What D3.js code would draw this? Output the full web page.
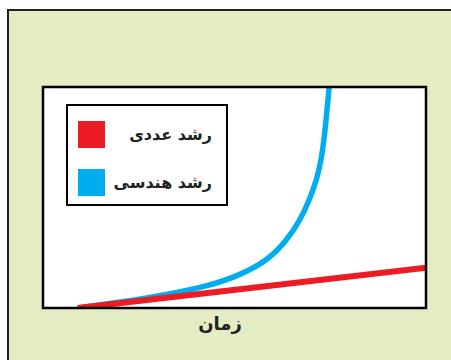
<!DOCTYPE html>
<html>
<head>
<meta charset="utf-8">
<script src="https://cdn.jsdelivr.net/npm/d3@7"></script>
<style>
  html, body { margin: 0; padding: 0; background: #fff; }
  svg { display: block; }
</style>
</head>
<body>
<div id="chart"></div>
<script>
// series (time vs growth, arbitrary units)
const arithmeticT = [0, 10];
const arithmeticV = [0, 1.82];

const geometricT = [0, 2.07, 3.8, 4.66, 5.47, 6.01, 6.39, 6.65, 6.86, 6.99, 7.07, 7.13, 7.22, 7.28];
const geometricV = [0, 0.45, 1.0, 1.49, 2.17, 3.08, 3.98, 4.89, 5.79, 6.7, 7.6, 8.51, 10, 11.2];

const legendLabels = ["رشد عددی", "رشد هندسی"];
const seriesColors = ["#ed1c24", "#00aeef"];
const xLabel = "زمان";

const width = 451;
const height = 360;
const plot = { left: 43, top: 87, right: 426, bottom: 308 };

const svg = d3.select("#chart")
  .append("svg")
  .attr("width", width)
  .attr("height", height);

// outer panel, runs off the right and bottom edges
svg.append("rect")
  .attr("x", 8)
  .attr("y", 10)
  .attr("width", 470)
  .attr("height", 380)
  .attr("fill", "#e4ecc3")
  .attr("stroke", "#222")
  .attr("stroke-width", 2);

svg.append("rect")
  .attr("x", plot.left)
  .attr("y", plot.top)
  .attr("width", plot.right - plot.left)
  .attr("height", plot.bottom - plot.top)
  .attr("fill", "#fff");

const x = d3.scaleLinear().domain([-1, 10]).range([plot.left, plot.right]);
const y = d3.scaleLinear().domain([0, 10]).range([plot.bottom, plot.top]);

svg.append("clipPath")
  .attr("id", "plot-clip")
  .append("rect")
  .attr("x", plot.left)
  .attr("y", plot.top)
  .attr("width", plot.right - plot.left)
  .attr("height", plot.bottom - plot.top);

const line = d3.line()
  .x(d => x(d[0]))
  .y(d => y(d[1]))
  .curve(d3.curveBasis);

const lines = svg.append("g").attr("clip-path", "url(#plot-clip)");

// blue goes under the red one
lines.append("path")
  .datum(d3.zip(geometricT, geometricV))
  .attr("d", line)
  .attr("fill", "none")
  .attr("stroke", seriesColors[1])
  .attr("stroke-width", 5.5);

lines.append("path")
  .datum(d3.zip(arithmeticT, arithmeticV))
  .attr("d", line)
  .attr("fill", "none")
  .attr("stroke", seriesColors[0])
  .attr("stroke-width", 6);

svg.append("rect")
  .attr("x", plot.left)
  .attr("y", plot.top)
  .attr("width", plot.right - plot.left)
  .attr("height", plot.bottom - plot.top)
  .attr("fill", "none")
  .attr("stroke", "#000")
  .attr("stroke-width", 2.5);

svg.append("text")
  .attr("x", 220)
  .attr("y", 330)
  .attr("text-anchor", "middle")
  .attr("font-family", "DejaVu Sans")
  .attr("font-weight", "bold")
  .attr("font-size", 18)
  .attr("fill", "#222")
  .text(xLabel);

// legend
const legend = svg.append("g").attr("transform", "translate(67,105)");

legend.append("rect")
  .attr("width", 160)
  .attr("height", 100)
  .attr("fill", "#fff")
  .attr("stroke", "#000")
  .attr("stroke-width", 2);

const items = legend.selectAll("g.item")
  .data(legendLabels)
  .join("g")
  .attr("class", "item")
  .attr("transform", (d, i) => `translate(0, ${16 + i * 48})`);

items.append("rect")
  .attr("x", 11)
  .attr("width", 27)
  .attr("height", 27)
  .attr("fill", (d, i) => seriesColors[i]);

items.append("text")
  .attr("x", 145)
  .attr("y", 19)
  .attr("text-anchor", "end")
  .attr("font-family", "DejaVu Sans")
  .attr("font-weight", "bold")
  .attr("font-size", 16)
  .attr("fill", "#222")
  .text(d => d);
</script>
</body>
</html>
